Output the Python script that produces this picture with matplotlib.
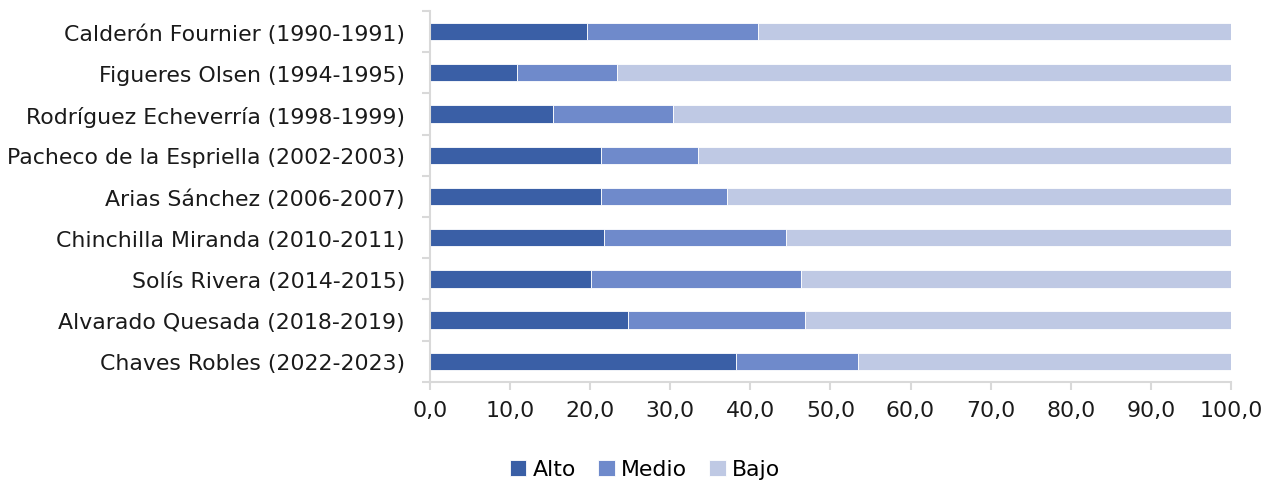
import matplotlib.pyplot as plt
import numpy as np

plt.rcParams['font.family'] = ['DejaVu Sans']

gobiernos = ['Calderón Fournier (1990-1991)', 'Figueres Olsen (1994-1995)',
             'Rodríguez Echeverría (1998-1999)', 'Pacheco de la Espriella (2002-2003)',
             'Arias Sánchez (2006-2007)', 'Chinchilla Miranda (2010-2011)',
             'Solís Rivera (2014-2015)', 'Alvarado Quesada (2018-2019)',
             'Chaves Robles (2022-2023)']
alto = [19.6, 10.8, 15.4, 21.3, 21.3, 21.7, 20.1, 24.7, 38.2]
medio = [21.3, 12.5, 14.9, 12.1, 15.8, 22.7, 26.2, 22.1, 15.2]
bajo = [100 - a - m for a, m in zip(alto, medio)]

colores = ['#3A5FA6', '#6F8ACB', '#BFC9E4']

fig, ax = plt.subplots(figsize=(12.65, 4.81), dpi=100)
fig.subplots_adjust(left=0.34, right=0.973, top=0.975, bottom=0.204)

y = np.arange(len(gobiernos))[::-1]
izq = np.zeros(len(gobiernos))
for nombre, vals, c in zip(['Alto', 'Medio', 'Bajo'], [alto, medio, bajo], colores):
    ax.barh(y, vals, left=izq, height=0.42, color=c, label=nombre,
            edgecolor='white', linewidth=0.6)
    izq += np.array(vals)

ax.set_xlim(0, 100)
ax.set_ylim(-0.5, len(gobiernos) - 0.5)
ax.set_xticks(np.arange(0, 101, 10))
ax.set_xticklabels([f'{v:.1f}'.replace('.', ',') for v in range(0, 101, 10)])
ax.set_yticks(y)
ax.set_yticklabels(gobiernos)
ax.set_yticks(np.arange(-0.5, len(gobiernos), 1), minor=True)

for s in ['top', 'right']:
    ax.spines[s].set_visible(False)
for s in ['left', 'bottom']:
    ax.spines[s].set_color('#D9D9D9')
    ax.spines[s].set_linewidth(1.5)

fs = 15.8
ax.tick_params(axis='y', which='major', length=0, pad=18, labelsize=fs, labelcolor='#1a1a1a')
ax.tick_params(axis='y', which='minor', length=6, width=1.5, color='#D9D9D9')
ax.tick_params(axis='x', length=6, width=1.5, color='#D9D9D9', pad=7, labelsize=fs,
               labelcolor='#1a1a1a')

fig.legend(loc='lower center', bbox_to_anchor=(0.51, -0.04), ncol=3, frameon=False,
           fontsize=fs, handlelength=0.75, handleheight=0.75, handletextpad=0.3,
           columnspacing=1.0)

fig.savefig('out.png', dpi=100)
